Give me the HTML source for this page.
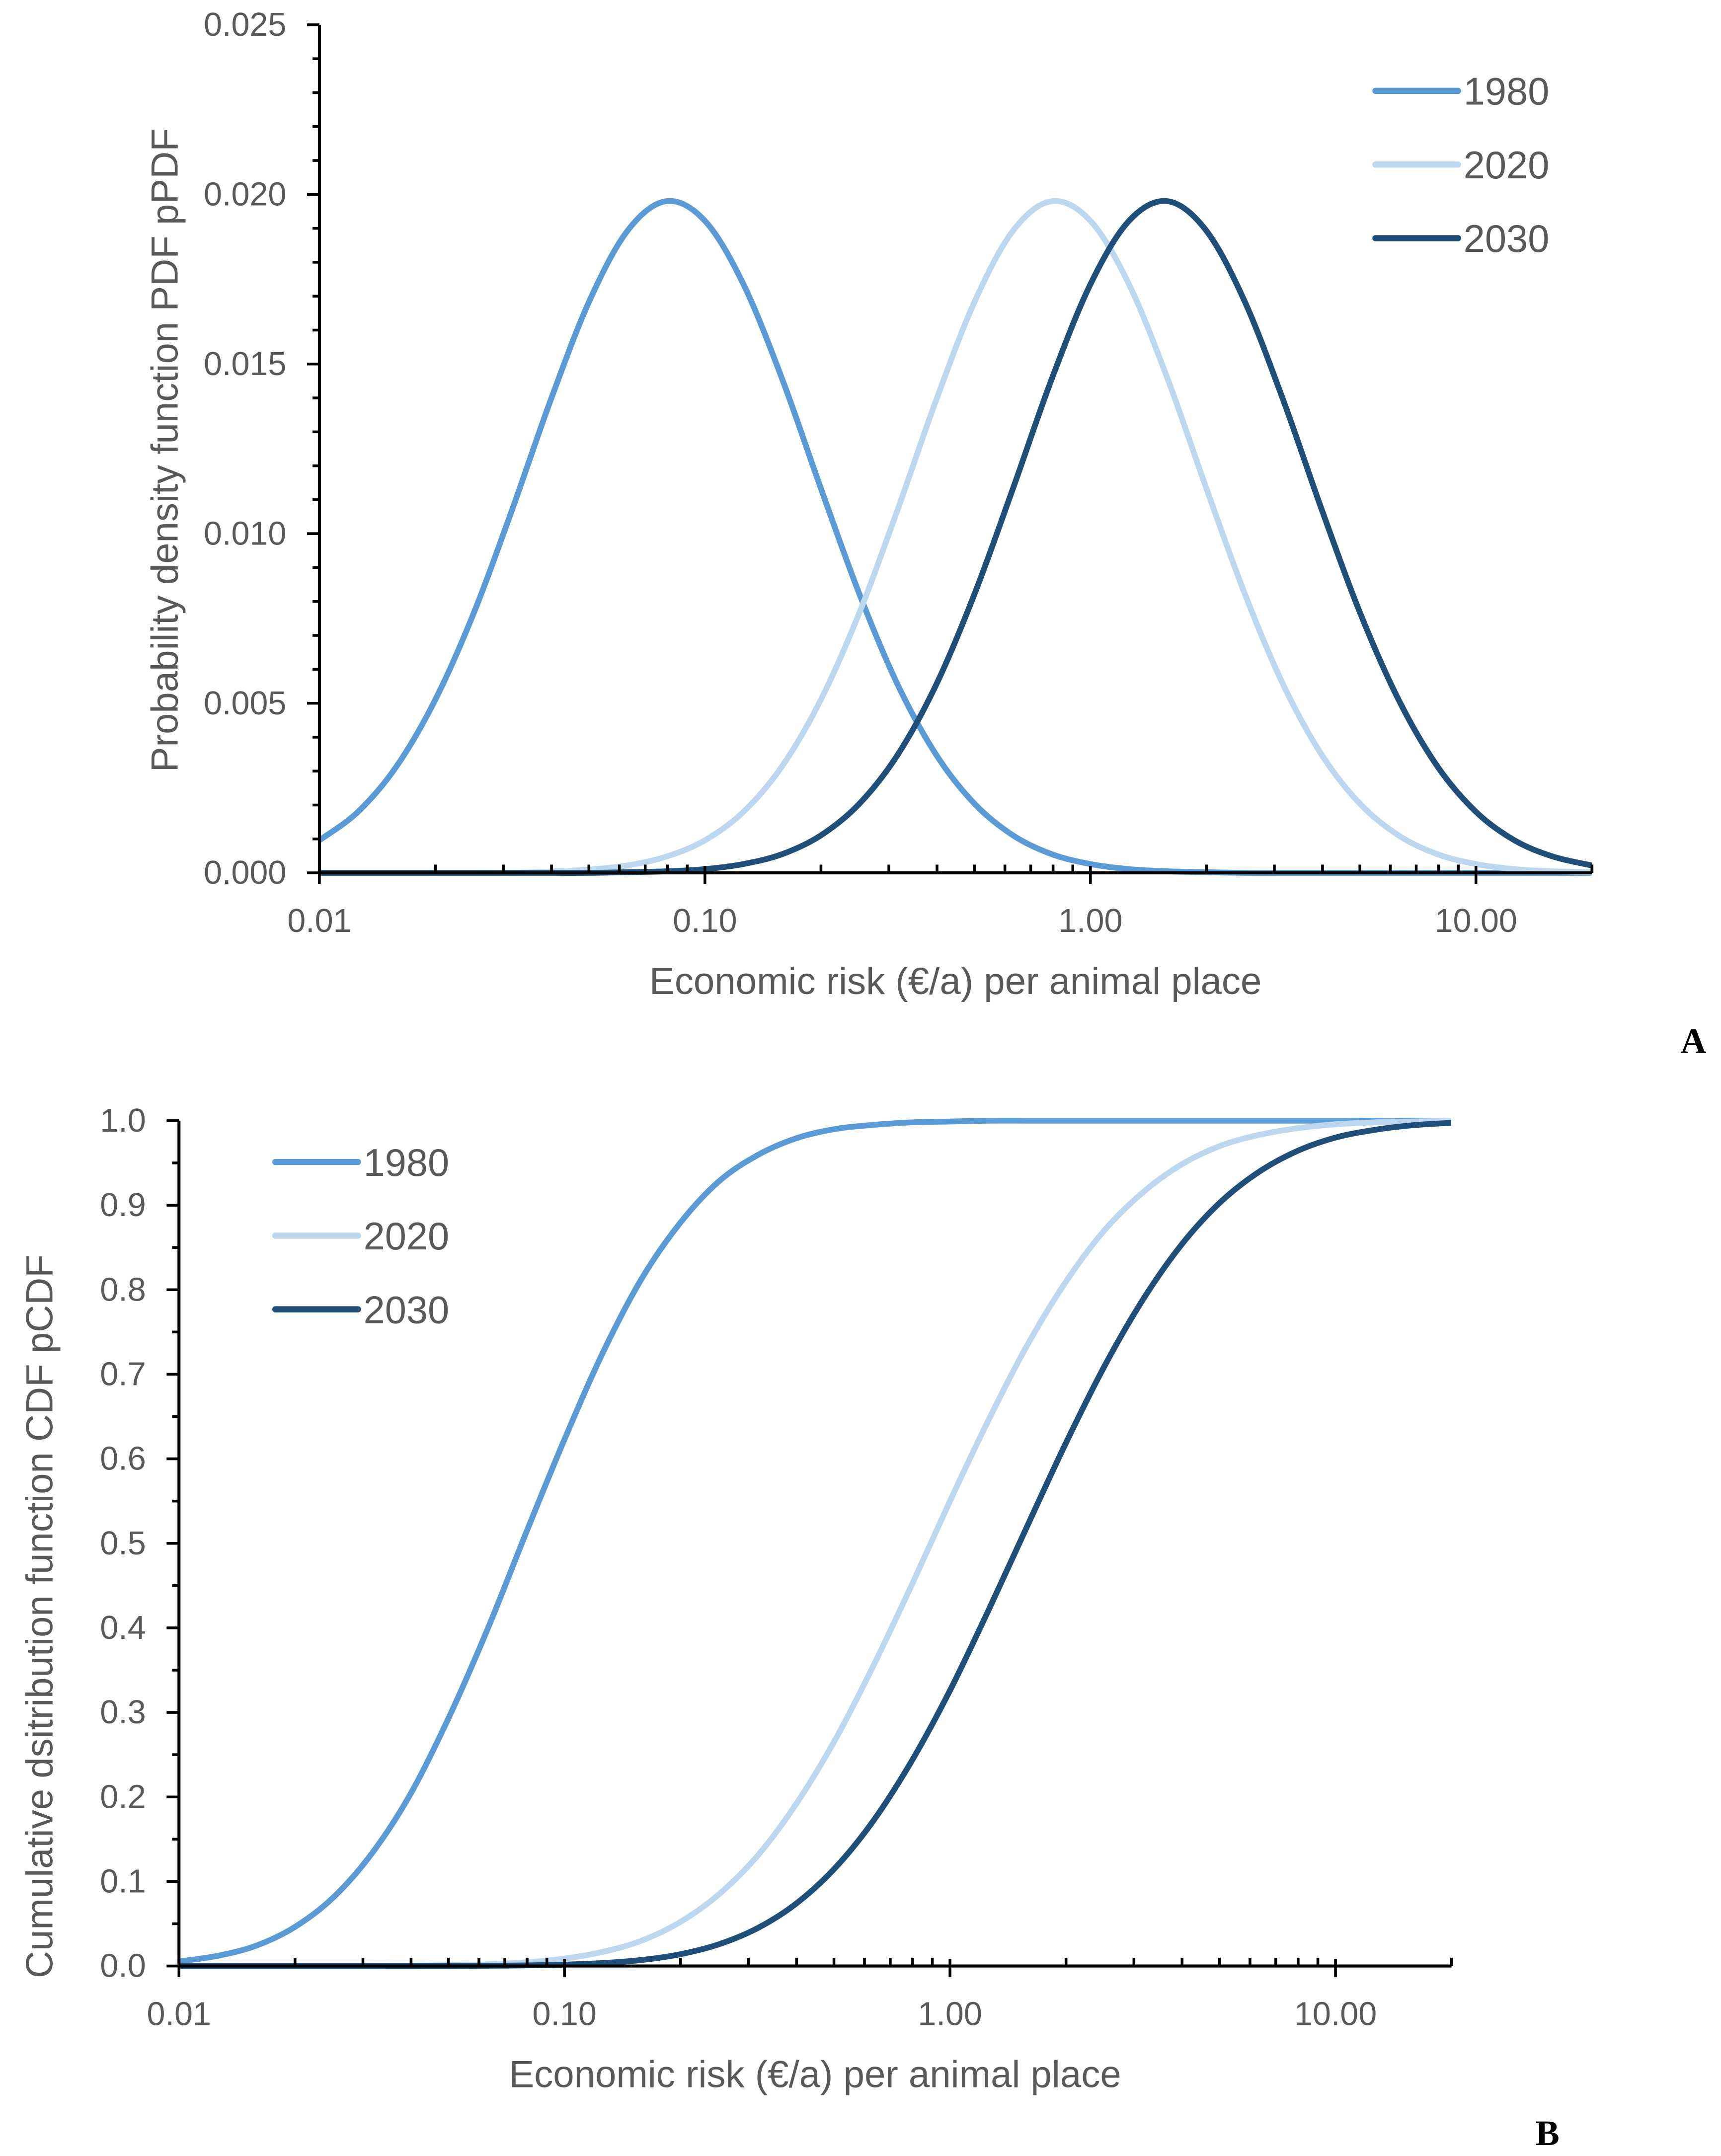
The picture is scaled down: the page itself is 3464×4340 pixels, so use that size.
<!DOCTYPE html>
<html><head><meta charset="utf-8"><style>
html,body{margin:0;padding:0;background:#fff}
svg{display:block}
text{font-family:"Liberation Sans","DejaVu Sans",sans-serif;fill:#595959}
</style></head><body>
<svg id="root" xmlns="http://www.w3.org/2000/svg" width="3464" height="4340" viewBox="0 0 1250 1566" preserveAspectRatio="none">
<g id="chartA"></g>
<g id="chartB"></g>
<text x="1230" y="765" text-anchor="middle" style="font-family:'Liberation Serif',serif;font-weight:bold;font-size:26px;fill:#000">A</text>
<text x="1124" y="1558" text-anchor="middle" style="font-family:'Liberation Serif',serif;font-weight:bold;font-size:26px;fill:#000">B</text>
</svg>
<script>
// ---- data ----
const seriesNames = ["1980","2020","2030"];
const seriesColors = ["#5B9BD5","#BDD7EE","#1F4E79"];
// log10(risk) grid shared by both charts
const logX = [-2.0,-1.9,-1.8,-1.7,-1.6,-1.5,-1.4,-1.3,-1.2,-1.1,-1.0,-0.9,-0.8,-0.7,-0.6,-0.5,-0.4,-0.3,-0.2,-0.1,0.0,0.1,0.2,0.3,0.4,0.5,0.6,0.7,0.8,0.9,1.0,1.1,1.2,1.3];
const pdf1980 = [0.00096,0.0018,0.00314,0.00509,0.00765,0.01071,0.01394,0.01685,0.01894,0.0198,0.01922,0.01735,0.01457,0.01136,0.00824,0.00555,0.00348,0.00203,0.0011,0.00055,0.00026,0.00011,0.000045,0.00002,0,0,0,0,0,0,0,0,0,0];
const pdf2020 = [0,0,0,0,0,0,0.00004,0.000094,0.00022,0.00048,0.00096,0.0018,0.00314,0.00509,0.00765,0.01071,0.01394,0.01685,0.01894,0.0198,0.01922,0.01735,0.01457,0.01136,0.00824,0.00555,0.00348,0.00203,0.0011,0.00055,0.00026,0.00011,0.000045,0.00002];
const pdf2030 = [0,0,0,0,0,0,0,0,0.00002,0.000045,0.00011,0.00026,0.00055,0.0011,0.00203,0.00348,0.00555,0.00824,0.01136,0.01457,0.01735,0.01922,0.0198,0.01894,0.01685,0.01394,0.01071,0.00765,0.00509,0.00314,0.0018,0.00096,0.00048,0.00022];
const cdf1980 = [0.0055,0.012,0.024,0.046,0.081,0.133,0.203,0.294,0.398,0.512,0.623,0.726,0.813,0.879,0.928,0.959,0.979,0.990,0.995,0.998,0.999,1,1,1,1,1,1,1,1,1,1,1,1,1];
const cdf2020 = [0,0,0,0,0,0,0.0004,0.0009,0.002,0.0043,0.0088,0.0168,0.030,0.052,0.0846,0.130,0.191,0.266,0.354,0.450,0.550,0.646,0.734,0.809,0.870,0.915,0.948,0.970,0.983,0.991,0.9957,0.998,0.999,0.9996];
const cdf2030 = [0,0,0,0,0,0,0,0.0001,0.0003,0.0007,0.0016,0.0035,0.0071,0.0139,0.0256,0.0446,0.0735,0.115,0.171,0.242,0.326,0.421,0.520,0.618,0.709,0.788,0.853,0.903,0.939,0.964,0.980,0.989,0.9946,0.9974];
const xTickLabels = ["0.01","0.10","1.00","10.00"];
const pdfYTicks = ["0.000","0.005","0.010","0.015","0.020","0.025"];
const cdfYTicks = ["0.0","0.1","0.2","0.3","0.4","0.5","0.6","0.7","0.8","0.9","1.0"];

const NS="http://www.w3.org/2000/svg";
function mk(parent,tag,attrs,txt){const e=document.createElementNS(NS,tag);for(const k in attrs)e.setAttribute(k,attrs[k]);if(txt!==undefined)e.textContent=txt;parent.appendChild(e);return e;}
function smooth(pts){let d="M"+pts[0][0].toFixed(2)+","+pts[0][1].toFixed(2);
 for(let i=0;i<pts.length-1;i++){const p0=pts[i-1]||pts[i],p1=pts[i],p2=pts[i+1],p3=pts[i+2]||p2;
  const c1=[p1[0]+(p2[0]-p0[0])/6,p1[1]+(p2[1]-p0[1])/6],c2=[p2[0]-(p3[0]-p1[0])/6,p2[1]-(p3[1]-p1[1])/6];
  d+=" C"+c1[0].toFixed(2)+","+c1[1].toFixed(2)+" "+c2[0].toFixed(2)+","+c2[1].toFixed(2)+" "+p2[0].toFixed(2)+","+p2[1].toFixed(2);}
 return d;}

function drawChart(g,cfg){
 const X=l=>cfg.x0+(l+2)*cfg.dec, Y=v=>cfg.yb-v/cfg.ymax*(cfg.yb-cfg.yt);
 const lmax=Math.log10(20), xEnd=X(lmax);
 cfg.series.forEach((s,i)=>{
  const pts=s.xs.map((lx,j)=>[X(Math.min(lx,lmax)),Y(s.ys[j])]);
  const p=mk(g,"path",{d:smooth(pts),fill:"none",stroke:seriesColors[i],"stroke-width":4.2,"stroke-linejoin":"round"});
  
  
 });
 const ya=mk(g,"line",{x1:cfg.x0,y1:cfg.yt,x2:cfg.x0,y2:cfg.yb,stroke:"#000","stroke-width":2.2});
 
 
 const xa=mk(g,"line",{x1:cfg.x0,y1:cfg.yb,x2:xEnd,y2:cfg.yb,stroke:"#000","stroke-width":2.2});
 
 
 const n=cfg.yTicks.length-1;
 for(let k=0;k<=n*cfg.minor;k++){
  const yy=Y(cfg.ymax*k/(n*cfg.minor));const major=k%cfg.minor===0;
  mk(g,"line",{x1:cfg.x0-(major?9:5),y1:yy,x2:cfg.x0,y2:yy,stroke:"#000","stroke-width":2});
 }
 cfg.yTicks.forEach((t,k)=>{const e=mk(g,"text",{x:cfg.x0-24,y:Y(cfg.ymax*k/n)+8,"text-anchor":"end","font-size":24},t);
  
  });
 for(let d=-2;d<=1;d++){
  for(let m=1;m<=9;m++){const l=d+Math.log10(m);if(l>lmax)break;const xx=X(l);
   if(m===1)mk(g,"line",{x1:xx,y1:cfg.yb-5,x2:xx,y2:cfg.yb+8,stroke:"#000","stroke-width":2});
   else mk(g,"line",{x1:xx,y1:cfg.yb-6,x2:xx,y2:cfg.yb,stroke:"#000","stroke-width":2});}
 }
 mk(g,"line",{x1:xEnd,y1:cfg.yb-6,x2:xEnd,y2:cfg.yb,stroke:"#000","stroke-width":2});
 xTickLabels.forEach((t,k)=>{const e=mk(g,"text",{x:X(k-2),y:cfg.yb+43,"text-anchor":"middle","font-size":24},t);
  
  });
 const xt=mk(g,"text",{x:cfg.xTitleX,y:cfg.yb+88,"text-anchor":"middle","font-size":27.5},"Economic risk (€/a) per animal place");
 
 
 const yt=mk(g,"text",{x:0,y:0,"text-anchor":"middle","font-size":27.5,transform:"translate("+cfg.yTitleX+","+cfg.yTitleY+") rotate(-90)"},cfg.yTitle);
 
 
 seriesNames.forEach((nm,i)=>{const ly=cfg.legY+i*53.5;
  const lg=mk(g,"g",{});
  
  
  mk(lg,"line",{x1:cfg.legX,y1:ly,x2:cfg.legX+60,y2:ly,stroke:seriesColors[i],"stroke-width":4.5,"stroke-linecap":"round"});
  mk(lg,"text",{x:cfg.legX+64,y:ly+10,"font-size":28},nm);});
}

drawChart(document.getElementById("chartA"),{x0:232,dec:280,yt:18,yb:634,ymax:0.025,yTicks:pdfYTicks,minor:5,
 xTitleX:694,yTitle:"Probability density function PDF pPDF",yTitleX:129,yTitleY:327,legX:999,legY:66,
 series:[{xs:logX,ys:pdf1980},{xs:logX,ys:pdf2020},{xs:logX,ys:pdf2030}]});
drawChart(document.getElementById("chartB"),{x0:130,dec:280,yt:814,yb:1428,ymax:1.0,yTicks:cdfYTicks,minor:2,
 xTitleX:592,yTitle:"Cumulative dsitribution function CDF  pCDF",yTitleX:38,yTitleY:1174,legX:200,legY:844,
 series:[{xs:logX,ys:cdf1980},{xs:logX,ys:cdf2020},{xs:logX,ys:cdf2030}]});
</script>
</body></html>
